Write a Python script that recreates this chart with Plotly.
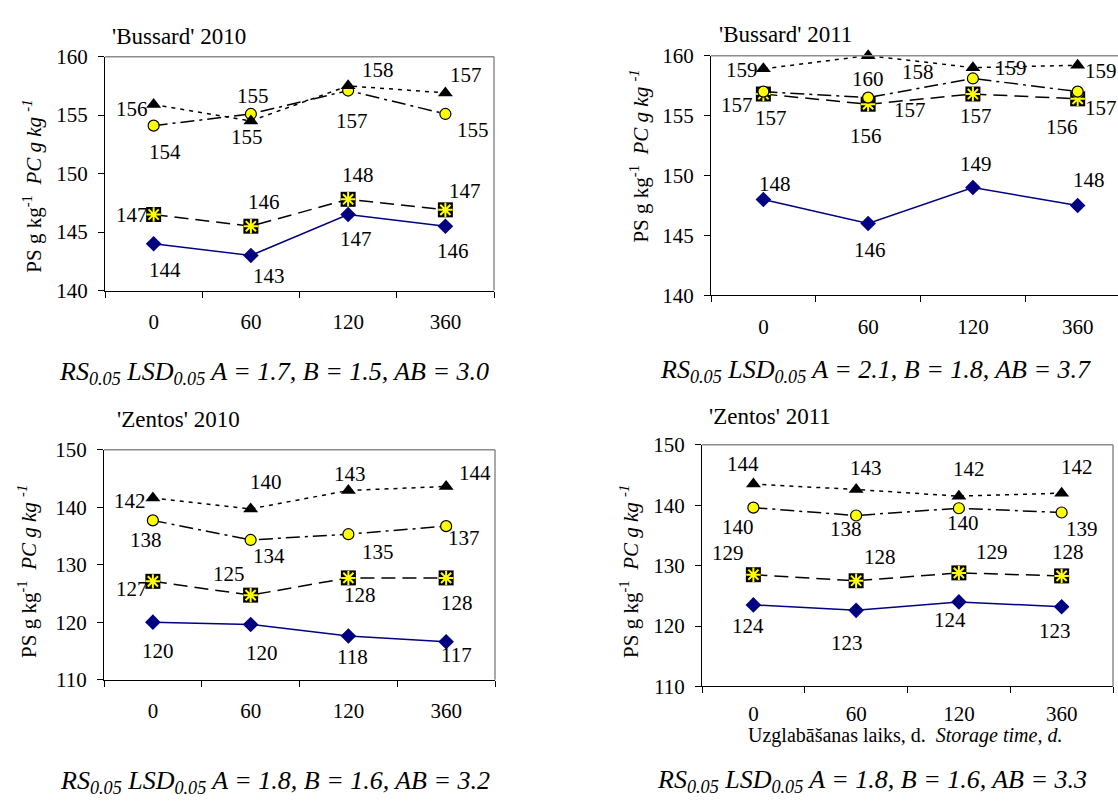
import plotly.graph_objects as go

W, H = 1118, 812
FONT = "Liberation Serif"

days = ["0", "60", "120", "360"]

# 'Bussard' 2010
b10_d = [144.0, 143.0, 146.5, 145.5]
b10_s = [146.5, 145.5, 147.8, 146.9]
b10_c = [154.1, 155.1, 157.1, 155.1]
b10_t = [155.9, 154.5, 157.5, 156.9]
b10_d_lab = ["144", "143", "147", "146"]
b10_s_lab = ["147", "146", "148", "147"]
b10_c_lab = ["154", "155", "157", "155"]
b10_t_lab = ["156", "155", "158", "157"]

# 'Bussard' 2011
b11_d = [148.0, 146.0, 149.0, 147.5]
b11_s = [156.8, 155.95, 156.8, 156.4]
b11_c = [157.0, 156.5, 158.1, 157.0]
b11_t = [158.9, 160.0, 159.0, 159.2]
b11_d_lab = ["148", "146", "149", "148"]
b11_s_lab = ["157", "156", "157", "156"]
b11_c_lab = ["157", "157", "158", "157"]
b11_t_lab = ["159", "160", "159", "159"]

# 'Zentos' 2010
z10_d = [120.0, 119.6, 117.6, 116.6]
z10_s = [127.1, 124.7, 127.7, 127.7]
z10_c = [137.7, 134.3, 135.3, 136.7]
z10_t = [141.6, 139.7, 142.9, 143.6]
z10_d_lab = ["120", "120", "118", "117"]
z10_s_lab = ["127", "125", "128", "128"]
z10_c_lab = ["138", "134", "135", "137"]
z10_t_lab = ["142", "140", "143", "144"]

# 'Zentos' 2011
z11_d = [123.5, 122.6, 124.0, 123.2]
z11_s = [128.5, 127.5, 128.8, 128.3]
z11_c = [139.6, 138.3, 139.5, 138.8]
z11_t = [143.5, 142.6, 141.5, 142.0]
z11_d_lab = ["124", "123", "124", "123"]
z11_s_lab = ["129", "128", "129", "128"]
z11_c_lab = ["140", "138", "140", "139"]
z11_t_lab = ["144", "143", "142", "142"]

titles = ["'Bussard' 2010", "'Bussard' 2011", "'Zentos' 2010", "'Zentos' 2011"]
lsd_texts = [
    "RS<sub>0.05</sub> LSD<sub>0.05</sub> A = 1.7, B = 1.5, AB = 3.0",
    "RS<sub>0.05</sub> LSD<sub>0.05</sub> A = 2.1, B = 1.8, AB = 3.7",
    "RS<sub>0.05</sub> LSD<sub>0.05</sub> A = 1.8, B = 1.6, AB = 3.2",
    "RS<sub>0.05</sub> LSD<sub>0.05</sub> A = 1.8, B = 1.6, AB = 3.3",
]
ytitle = "PS g kg<sup>-1</sup>  <i>PC g kg <sup>-1</sup></i>"
xtitle = "Uzglabāšanas laiks, d.  <i>Storage time, d.</i>"

# ---- layout geometry (pixels) ----
panels = [
    dict(series=(b10_d, b10_s, b10_c, b10_t), labels=(b10_d_lab, b10_s_lab, b10_c_lab, b10_t_lab),
         box=(105, 494, 46, 287), yr=(140, 160), dtick=5, xr=(-0.5, 3.5), right=True, xstand=12,
         off=[[(11, 26), (18, 21), (8, 24), (8, 25)],
              [(-22, 0), (13, -24), (10, -24), (20, -19)],
              [(11, 26), (2, -18), (4, 30), (28, 16)],
              [(-22, 4), (-4, 16), (30, -16), (21, -18)]],
         title=(110, 25), yt=(33, 180), lsd=(274, 372)),
    dict(series=(b11_d, b11_s, b11_c, b11_t), labels=(b11_d_lab, b11_s_lab, b11_c_lab, b11_t_lab),
         box=(711, 1118, 45, 292), yr=(140, 160), dtick=5, xr=(-0.5, 3.385), right=False, xstand=12,
         off=[[(12, -15), (2, 27), (3, -23), (11, -25)],
              [(8, 24), (-2, 32), (3, 22), (-16, 28)],
              [(-26, 13), (42, 12), (-55, -6), (23, 16)],
              [(-21, 1), (0, 23), (38, 0), (23, 6)]],
         title=(717, 23), yt=(640, 149), lsd=(875, 370)),
    dict(series=(z10_d, z10_s, z10_c, z10_t), labels=(z10_d_lab, z10_s_lab, z10_c_lab, z10_t_lab),
         box=(104, 495, 451, 688), yr=(110, 150), dtick=10, xr=(-0.5, 3.5), right=True, xstand=12,
         off=[[(5, 29), (11, 29), (4, 21), (10, 13)],
              [(-21, 8), (-22, -21), (12, 17), (11, 25)],
              [(-7, 20), (18, 16), (30, 18), (18, 12)],
              [(-23, 3), (15, -27), (2, -16), (29, -13)]],
         title=(115, 420), yt=(28, 577), lsd=(275, 793)),
    dict(series=(z11_d, z11_s, z11_c, z11_t), labels=(z11_d_lab, z11_s_lab, z11_c_lab, z11_t_lab),
         box=(702, 1113, 446, 695), yr=(110, 150), dtick=10, xr=(-0.5, 3.5), right=True, xstand=8,
         off=[[(-5, 21), (-9, 33), (-9, 18), (-7, 24)],
              [(-25, -22), (24, -24), (33, -21), (6, -24)],
              [(-15, 19), (-10, 14), (4, 15), (20, 17)],
              [(-10, -20), (10, -22), (10, -27), (15, -26)]],
         title=(707, 417), yt=(630, 577), lsd=(872, 792)),
]

NAVY = "#000080"
YEL = "#FFFF00"
LBL = 21

fig = go.Figure()
annotations = []
shapes = []
layout = {}

for k, p in enumerate(panels):
    n = "" if k == 0 else str(k + 1)
    xa, ya = "x" + n, "y" + n
    d, s, c, t = p["series"]
    fig.add_trace(go.Scatter(x=days, y=d, xaxis=xa, yaxis=ya, mode="lines+markers", cliponaxis=False,
                             line=dict(color=NAVY, width=1.5),
                             marker=dict(symbol="diamond", size=12, color=NAVY), showlegend=False))
    fig.add_trace(go.Scatter(x=days, y=s, xaxis=xa, yaxis=ya, mode="lines+markers", cliponaxis=False,
                             line=dict(color="black", width=1.5, dash="14px,7px"),
                             marker=dict(symbol="square", size=15, color="black"), showlegend=False))
    fig.add_trace(go.Scatter(x=days, y=s, xaxis=xa, yaxis=ya, mode="markers", cliponaxis=False,
                             marker=dict(symbol="asterisk-open", size=12, color=YEL,
                                         line=dict(color=YEL, width=2)), showlegend=False))
    fig.add_trace(go.Scatter(x=days, y=c, xaxis=xa, yaxis=ya, mode="lines+markers", cliponaxis=False,
                             line=dict(color="black", width=1.5, dash="14px,5px,3px,5px"),
                             marker=dict(symbol="circle", size=11, color=YEL,
                                         line=dict(color="black", width=1.2)), showlegend=False))
    fig.add_trace(go.Scatter(x=days, y=t, xaxis=xa, yaxis=ya, mode="lines+markers", cliponaxis=False,
                             line=dict(color="black", width=1.5, dash="4px,5px"),
                             marker=dict(symbol="triangle-up", size=13, color="black"), showlegend=False))

    x0, x1, y0, y1 = p["box"]
    layout["xaxis" + n] = dict(
        domain=[x0 / W, x1 / W], anchor=ya, type="category", categoryorder="array",
        categoryarray=days, range=list(p["xr"]), tickson="boundaries", ticks="outside",
        ticklen=6, tickcolor="black", showline=True, linecolor="black", linewidth=1,
        showgrid=False, zeroline=False, ticklabelstandoff=p["xstand"],
        tickfont=dict(family=FONT, size=LBL, color="black"), fixedrange=True)
    layout["yaxis" + n] = dict(
        domain=[1 - y1 / H, 1 - y0 / H], anchor=xa, range=list(p["yr"]), dtick=p["dtick"],
        ticks="outside", ticklen=6, tickcolor="black", showline=True, linecolor="black",
        linewidth=1, showgrid=False, zeroline=False, ticklabelstandoff=6,
        tickfont=dict(family=FONT, size=LBL, color="black"), fixedrange=True)

    shapes.append(dict(type="line", xref=xa + " domain", yref=ya + " domain",
                       x0=0, x1=1, y0=1, y1=1, line=dict(color="#8c8c8c", width=1.5)))
    if p["right"]:
        shapes.append(dict(type="line", xref=xa + " domain", yref=ya + " domain",
                           x0=1, x1=1, y0=0, y1=1, line=dict(color="#8c8c8c", width=1.5)))

    for si, (vals, labs) in enumerate(zip(p["series"], p["labels"])):
        for i in range(4):
            dx, dy = p["off"][si][i]
            annotations.append(dict(x=i, y=vals[i], xref=xa, yref=ya, text=labs[i],
                                    showarrow=False, xshift=dx, yshift=-dy,
                                    xanchor="center", yanchor="middle",
                                    font=dict(family=FONT, size=LBL, color="black")))

    tx, ty = p["title"]
    annotations.append(dict(x=tx / W, y=1 - ty / H, xref="paper", yref="paper", text=titles[k],
                            showarrow=False, xanchor="left", yanchor="middle",
                            font=dict(family=FONT, size=23, color="black")))
    yx, yy = p["yt"]
    annotations.append(dict(x=yx / W, y=1 - yy / H, xref="paper", yref="paper", text=ytitle,
                            showarrow=False, textangle=-90, xanchor="center", yanchor="middle",
                            font=dict(family=FONT, size=21, color="black")))
    lx, ly = p["lsd"]
    annotations.append(dict(x=lx / W, y=1 - ly / H, xref="paper", yref="paper",
                            text="<i>" + lsd_texts[k] + "</i>",
                            showarrow=False, xanchor="center", yanchor="middle",
                            font=dict(family=FONT, size=26, color="black")))

annotations.append(dict(x=905 / W, y=1 - 746 / H, xref="paper", yref="paper", text=xtitle,
                        showarrow=False, xanchor="center", yanchor="middle",
                        font=dict(family=FONT, size=20, color="black")))

fig.update_layout(width=W, height=H, margin=dict(l=0, r=0, t=0, b=0),
                  paper_bgcolor="white", plot_bgcolor="white",
                  annotations=annotations, shapes=shapes, **layout)

fig.write_html("out.html", config={"displayModeBar": False},
               post_script="document.body.style.margin='0px';")
